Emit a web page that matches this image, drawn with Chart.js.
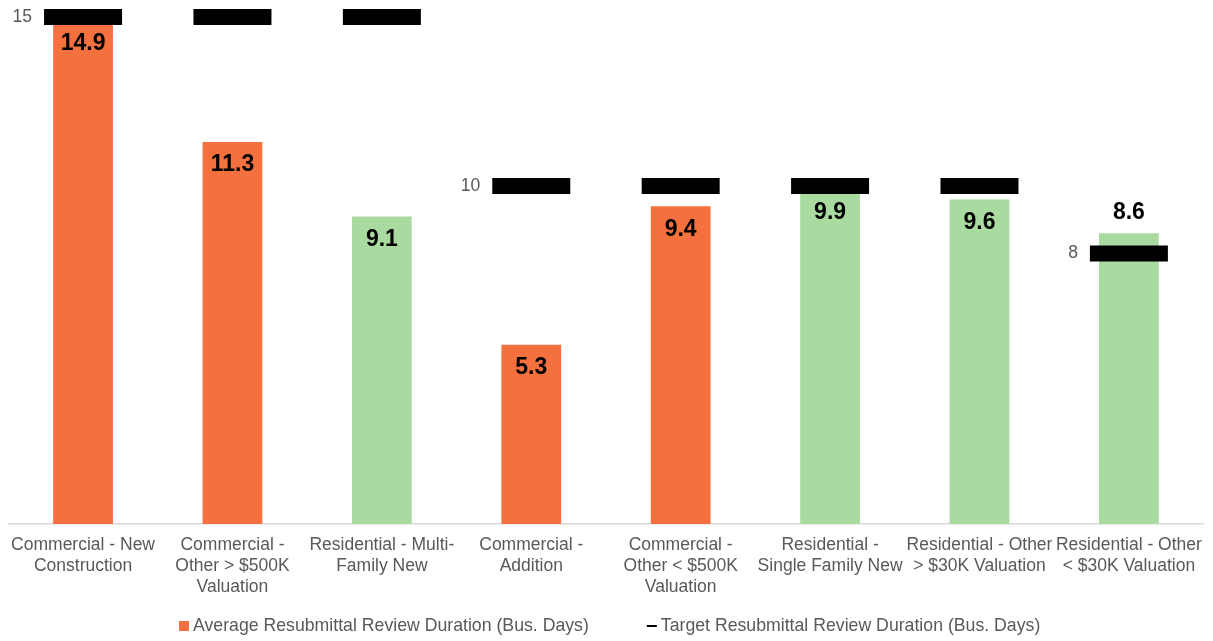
<!DOCTYPE html>
<html>
<head>
<meta charset="utf-8">
<script src="https://cdn.jsdelivr.net/npm/chart.js@4/dist/chart.umd.min.js"></script>
<style>
  body { margin: 0; background: #fff; }
  #wrap { width: 1213px; height: 641px; }
</style>
</head>
<body>
<div id="wrap"><canvas id="chart"></canvas></div>
<script>
const categories = [
  ["Commercial - New", "Construction"],
  ["Commercial -", "Other > $500K", "Valuation"],
  ["Residential - Multi-", "Family New"],
  ["Commercial -", "Addition"],
  ["Commercial -", "Other < $500K", "Valuation"],
  ["Residential -", "Single Family New"],
  ["Residential - Other", "> $30K Valuation"],
  ["Residential - Other", "< $30K Valuation"],
];
const averageDays = [14.9, 11.3, 9.1, 5.3, 9.4, 9.9, 9.6, 8.6];
const targetDays = [15, 15, 15, 10, 10, 10, 10, 8];
const seriesNames = [
  "Average Resubmittal Review Duration (Bus. Days)",
  "Target Resubmittal Review Duration (Bus. Days)",
];

const ORANGE = "#F4703F";
const GREEN = "#A9DBA0";
const GREY = "#595959";
const FONT = "'Liberation Sans', Arial, sans-serif";
const MARK_HALF = 39;

// bar colours follow the category type
const barColors = categories.map((c) => (c[0].startsWith("Commercial") ? ORANGE : GREEN));

const labelPlugin = {
  id: "labels",
  afterDatasetsDraw(chart) {
    const ctx = chart.ctx;
    const bars = chart.getDatasetMeta(0).data;
    const marks = chart.getDatasetMeta(1).data;
    ctx.save();
    ctx.textAlign = "center";
    ctx.textBaseline = "middle";
    ctx.fillStyle = "#000";
    ctx.font = "bold 23px " + FONT;
    bars.forEach((bar, i) => {
      const v = averageDays[i];
      // label goes above the bar when the target marker sits inside it
      const y = v > targetDays[i] ? bar.y - 21 : bar.y + 23;
      ctx.fillText(v.toFixed(1), bar.x, y);
    });
    ctx.font = "17.5px " + FONT;
    ctx.fillStyle = GREY;
    ctx.textAlign = "right";
    marks.forEach((pt, i) => {
      if (i === 0 || targetDays[i] !== targetDays[i - 1]) {
        ctx.fillText(String(targetDays[i]), pt.x - MARK_HALF - 12, pt.y);
      }
    });
    ctx.restore();
  },
};

// simple legend drawn at the bottom (Chart.js legend padding is too tall here)
const legendPlugin = {
  id: "bottomLegend",
  afterDraw(chart) {
    const ctx = chart.ctx;
    ctx.save();
    ctx.font = "17.7px " + FONT;
    ctx.textBaseline = "middle";
    const box = 10, gapText = 4, gapItem = 58;
    const w1 = ctx.measureText(seriesNames[0]).width;
    const w2 = ctx.measureText(seriesNames[1]).width;
    const total = box + gapText + w1 + gapItem + box + gapText + w2;
    let x = Math.round((chart.width - total) / 2) + 3;
    const y = 626;
    ctx.fillStyle = ORANGE;
    ctx.fillRect(x, y - box / 2, box, box);
    x += box + gapText;
    ctx.fillStyle = GREY;
    ctx.fillText(seriesNames[0], x, y);
    x += w1 + gapItem;
    ctx.fillStyle = "#000";
    ctx.fillRect(x, y - 1, box, 2);
    x += box + gapText;
    ctx.fillStyle = GREY;
    ctx.fillText(seriesNames[1], x, y);
    ctx.restore();
  },
};

new Chart("chart", {
  type: "bar",
  data: {
    labels: categories,
    datasets: [
      {
        label: seriesNames[0],
        data: averageDays,
        backgroundColor: barColors,
        categoryPercentage: 1,
        barPercentage: 0.4,
        order: 1,
      },
      {
        type: "line",
        label: seriesNames[1],
        data: targetDays,
        showLine: false,
        pointStyle: "line",
        pointRadius: MARK_HALF,
        pointHoverRadius: MARK_HALF,
        pointBorderWidth: 16,
        pointHoverBorderWidth: 16,
        pointBorderColor: "#000",
        pointBackgroundColor: "#000",
        clip: false,
        order: 0,
      },
    ],
  },
  options: {
    responsive: true,
    maintainAspectRatio: false,
    animation: false,
    layout: { autoPadding: false, padding: { top: 17, left: 6, right: 5, bottom: 32 } },
    scales: {
      y: { display: false, min: 0, max: 15 },
      x: {
        grid: { display: false, drawTicks: false },
        border: { display: true, color: "#D9D9D9", width: 1.5 },
        ticks: {
          color: GREY,
          font: { family: FONT, size: 17.5, lineHeight: 1.2 },
          padding: 11,
          maxRotation: 0,
          autoSkip: false,
        },
      },
    },
    plugins: {
      tooltip: { enabled: false },
      legend: { display: false },
    },
  },
  plugins: [labelPlugin, legendPlugin],
});
</script>
</body>
</html>
